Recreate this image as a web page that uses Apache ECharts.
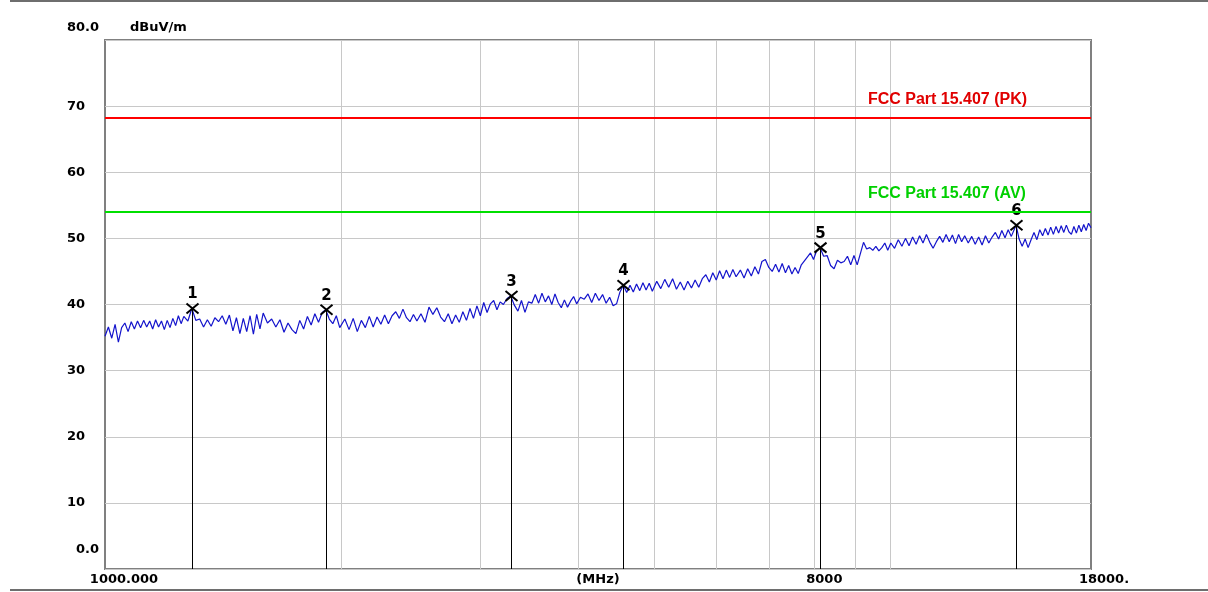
<!DOCTYPE html>
<html><head><meta charset="utf-8">
<script src="https://cdn.jsdelivr.net/npm/echarts@6/dist/echarts.min.js"></script>
<style>html,body{margin:0;padding:0;background:#fff;}#c{width:1208px;height:592px;}</style>
</head><body><div id="c"></div>
<script>
// Measured trace: [frequency MHz, level dBuV/m]
const trace = [
[1000,35.2],[1010,36.6],[1020,34.9],[1030,37.0],[1040,34.3],[1050,36.5],[1060,37.2],[1070,35.9],[1080,37.4],[1090,36.3],[1100,37.5],[1110,36.5],[1120,37.6],[1130,36.6],[1140,37.5],[1150,36.3],[1160,37.7],[1170,36.6],[1180,37.5],[1190,36.2],[1200,37.6],[1210,36.5],[1220,37.9],[1230,36.8],[1240,38.3],[1250,37.1],
[1260,38.2],[1275,37.5],[1290,39.4],[1305,37.6],[1320,37.8],[1335,36.6],[1350,37.7],[1365,36.7],[1380,38.0],[1395,37.4],[1410,38.3],[1425,37.0],[1440,38.4],[1455,36.0],[1470,38.0],[1485,35.6],[1500,37.9],[1515,35.9],[1530,38.3],[1545,35.5],[1560,38.5],[1575,36.3],[1590,38.7],
[1610,37.2],[1630,37.8],[1650,36.6],[1670,37.7],[1690,35.8],[1710,37.2],[1730,36.2],[1750,35.6],[1770,37.6],[1790,36.3],[1810,38.2],[1830,36.9],[1850,38.6],[1870,37.3],[1890,38.8],[1910,39.2],[1930,37.8],[1950,37.1],[1970,38.3],[1990,36.5],
[2020,37.8],[2045,36.2],[2070,37.9],[2095,35.9],[2120,37.6],[2145,36.5],[2170,38.2],[2195,36.6],[2220,38.1],[2245,37.0],[2270,38.4],[2295,37.1],[2320,38.3],[2345,38.9],[2370,37.9],[2395,39.3],[2420,38.0],[2445,37.4],[2470,38.5],[2495,37.5],
[2525,38.6],[2555,37.3],[2585,39.6],[2615,38.5],[2645,39.5],[2675,38.1],[2705,37.4],[2735,38.6],[2765,37.1],[2795,38.4],[2825,37.3],[2855,38.9],[2885,37.6],[2915,39.4],[2945,37.9],[2975,39.8],[3005,38.3],[3035,40.3],[3065,38.8],[3095,40.1],[3125,40.6],[3155,39.2],[3185,40.4],
[3215,40.0],[3250,40.9],[3285,41.3],[3320,39.9],[3355,39.0],[3390,40.6],[3425,38.8],[3460,40.4],[3495,40.2],[3530,41.5],[3565,40.2],[3600,41.7],[3635,40.4],[3670,41.3],[3705,40.0],[3740,41.6],[3775,40.3],[3810,39.5],[3845,40.7],[3880,39.6],[3915,40.5],[3950,41.2],[3985,40.1],
[4030,41.1],[4075,40.8],[4120,41.6],[4165,40.3],[4210,41.7],[4255,40.6],[4300,41.5],[4345,40.2],[4390,41.1],[4435,39.8],[4480,40.1],[4525,41.9],[4570,42.9],[4615,41.8],[4660,42.9],[4705,41.9],[4750,43.1],[4795,42.1],[4840,43.3],[4885,42.2],[4930,43.2],[4975,42.0],
[5040,43.5],[5100,42.4],[5160,43.8],[5220,42.6],[5280,43.9],[5340,42.3],[5400,43.4],[5460,42.2],[5520,43.5],[5580,42.5],[5640,43.7],[5700,42.6],[5760,43.9],[5820,44.5],[5880,43.4],[5940,44.8],[6000,43.7],[6060,45.1],[6120,43.9],[6180,45.2],[6240,44.1],[6300,45.3],[6360,44.2],
[6440,45.2],[6510,44.0],[6580,45.4],[6650,44.3],[6720,45.7],[6790,44.6],[6860,46.5],[6930,46.8],[7000,45.6],[7070,45.0],[7140,46.1],[7210,44.9],[7280,46.2],[7350,44.8],[7420,45.9],[7490,44.6],[7560,45.6],[7630,44.7],[7700,46.0],[7770,46.6],[7840,47.2],[7910,47.8],[7980,46.8],
[8050,48.1],[8135,48.6],[8220,47.3],[8305,47.4],[8390,45.9],[8475,45.4],[8560,46.7],[8645,46.3],[8730,46.5],[8815,47.3],[8900,46.0],[8985,47.4],[9070,46.0],[9155,47.7],[9240,49.4],[9325,48.4],[9410,48.6],[9495,48.2],[9580,48.8],[9665,48.1],[9750,48.6],[9835,49.3],[9920,48.2],
[10010,49.3],[10120,48.5],[10230,49.8],[10340,48.8],[10450,50.0],[10560,48.9],[10670,50.2],[10780,49.1],[10890,50.4],[11000,49.3],[11110,50.6],[11220,49.4],[11330,48.5],[11440,49.5],[11550,50.3],[11660,49.4],[11770,50.6],[11880,49.5],[11990,50.5],[12100,49.2],[12210,50.6],[12320,49.5],[12430,50.4],
[12560,49.3],[12690,50.3],[12820,49.1],[12950,50.2],[13080,49.0],[13210,50.4],[13340,49.3],[13470,50.2],[13600,50.9],[13730,49.9],[13860,51.2],[13990,50.1],[14120,51.3],[14250,50.3],[14450,52.0],[14580,49.9],[14710,48.8],[14840,49.9],[14970,48.6],[15100,49.8],[15230,50.9],[15360,49.8],[15490,51.3],
[15620,50.4],[15745,51.5],[15870,50.5],[15995,51.7],[16120,50.6],[16245,51.8],[16370,50.8],[16495,51.9],[16620,50.9],[16745,52.0],[16870,51.0],[16995,50.6],[17120,51.8],[17245,50.8],[17370,52.0],[17495,51.0],[17620,52.1],[17745,51.2],[17870,52.3],[18000,51.6]
];
const markerFreq  = [1290, 1910, 3285, 4570, 8135, 14450];
const markerLevel = [39.4, 39.2, 41.3, 42.9, 48.6, 52.0];
const markerLabel = ['1', '2', '3', '4', '5', '6'];
const limitFreq   = [1000, 18000];
const limitLevel  = [68.2, 54.0];
const limitName   = ['FCC Part 15.407 (PK)', 'FCC Part 15.407 (AV)'];
const limitLabelFreq = 9360;
const gridFreq    = [2000, 3000, 4000, 5000, 6000, 7000, 8000, 9000, 10000];
const xLabelValue = [1000, 8000, 18000];
const xLabelText  = ['1000.000', '8000', '18000.'];
const yLabelText  = {0:'0.0', 10:'10', 20:'20', 30:'30', 40:'40', 50:'50', 60:'60', 70:'70', 80:'80.0'};

const F = 'DejaVu Sans';
const limitColor = ['#ff0000', '#00e000'];
const limitTextColor = ['#e00000', '#00d000'];

const chart = echarts.init(document.getElementById('c'));
const xRich = ['a','b','c'];
const option = {
  animation: false,
  backgroundColor: '#ffffff',
  grid: {left:105, right:117, top:40, bottom:23, show:true, borderColor:'#808080', borderWidth:2, backgroundColor:'transparent', containLabel:false, outerBoundsMode:'none'},
  xAxis: {
    type:'log', logBase:10, min:1000, max:18000,
    name:'(MHz)', nameLocation:'middle', nameGap:4, nameMoveOverlap:false,
    nameTextStyle:{fontFamily:F, fontWeight:'bold', fontSize:13, color:'#000', verticalAlign:'top'},
    axisLine:{show:false}, axisTick:{show:false}, splitLine:{show:false},
    axisLabel:{
      customValues: xLabelValue, margin:4, fontFamily:F, fontWeight:'bold', fontSize:13, color:'#000',
      formatter: function(v){
        let best=0, bd=1e9;
        xLabelValue.forEach((x,i)=>{const d=Math.abs(Math.log(v/x)); if(d<bd){bd=d;best=i;}});
        return '{'+xRich[best]+'|'+xLabelText[best]+'}';
      },
      rich:{
        a:{fontFamily:F, fontWeight:'bold', fontSize:13, color:'#000', padding:[0,0,0,38]},
        b:{fontFamily:F, fontWeight:'bold', fontSize:13, color:'#000', padding:[0,0,0,20]},
        c:{fontFamily:F, fontWeight:'bold', fontSize:13, color:'#000', padding:[0,0,0,26]}
      }
    }
  },
  yAxis: {
    type:'value', min:0, max:80, interval:10,
    name:'dBuV/m', nameLocation:'end', nameGap:12, nameMoveOverlap:false,
    nameTextStyle:{fontFamily:F, fontWeight:'bold', fontSize:13, color:'#000', align:'left', verticalAlign:'middle', padding:[0,0,0,25]},
    axisLine:{show:false}, axisTick:{show:false},
    splitLine:{lineStyle:{color:'#c8c8c8', width:1}},
    axisLabel:{
      margin:6, fontFamily:F, fontWeight:'bold', fontSize:13, color:'#000',
      formatter: function(v){
        const t = yLabelText[Math.round(v)];
        if (Math.round(v)===80) return '{t|'+t+'}';
        if (Math.round(v)===0) return '{b|'+t+'}';
        return '{n|'+t+'}';
      },
      rich:{
        t:{fontFamily:F, fontWeight:'bold', fontSize:13, color:'#000', padding:[0,0,24,0]},
        b:{fontFamily:F, fontWeight:'bold', fontSize:13, color:'#000', padding:[0,0,38,0]},
        n:{fontFamily:F, fontWeight:'bold', fontSize:13, color:'#000', padding:[0,14,0,0]}
      }
    }
  },
  graphic: [
    {type:'line', shape:{x1:10, y1:1, x2:1208, y2:1}, style:{stroke:'#6e6e6e', lineWidth:2}, z:10},
    {type:'line', shape:{x1:10, y1:590, x2:1208, y2:590}, style:{stroke:'#6e6e6e', lineWidth:2}, z:10}
  ],
  series: [
    {
      type:'custom', z:1, silent:true,
      data: gridFreq.map(f=>[f]),
      renderItem: function(params, api){
        const a = api.coord([api.value(0), 0]);
        const b = api.coord([api.value(0), 80]);
        return {type:'line', shape:{x1:Math.round(a[0])+0.5, y1:a[1], x2:Math.round(a[0])+0.5, y2:b[1]}, style:{stroke:'#c8c8c8', lineWidth:1}};
      }
    },
    {
      type:'line', z:2, silent:true, symbol:'none',
      data: trace,
      lineStyle:{color:'#1414cc', width:1.2}
    },
    {
      type:'custom', z:3, silent:true,
      data: markerFreq.map((f,i)=>[f, markerLevel[i]]),
      renderItem: function(params, api){
        const p = api.coord([api.value(0), api.value(1)]);
        const b = api.coord([api.value(0), 0]);
        const x = Math.round(p[0])+0.5;
        return {type:'group', children:[
          {type:'line', shape:{x1:x, y1:p[1], x2:x, y2:b[1]}, style:{stroke:'#000', lineWidth:1}},
          {type:'line', shape:{x1:x-6, y1:p[1]-5, x2:x+6, y2:p[1]+5}, style:{stroke:'#000', lineWidth:2}},
          {type:'line', shape:{x1:x-6, y1:p[1]+5, x2:x+6, y2:p[1]-5}, style:{stroke:'#000', lineWidth:2}},
          {type:'text', x:x, y:p[1]-14, style:{text:markerLabel[params.dataIndex], textAlign:'center', textVerticalAlign:'middle', font:'bold 15px "DejaVu Sans"', fill:'#000'}}
        ]};
      }
    },
    {
      type:'line', z:4, silent:true, symbol:'none',
      data: limitFreq.map(f=>[f, limitLevel[0]]),
      lineStyle:{color:limitColor[0], width:2}
    },
    {
      type:'line', z:4, silent:true, symbol:'none',
      data: limitFreq.map(f=>[f, limitLevel[1]]),
      lineStyle:{color:limitColor[1], width:2}
    },
    {
      type:'custom', z:5, silent:true,
      data: limitLevel.map(v=>[limitLabelFreq, v]),
      renderItem: function(params, api){
        const p = api.coord([api.value(0), api.value(1)]);
        return {type:'text', x:p[0], y:p[1]-18, style:{text:limitName[params.dataIndex], textAlign:'left', textVerticalAlign:'middle', font:'bold 16px "Liberation Sans"', fill:limitTextColor[params.dataIndex]}};
      }
    }
  ]
};
chart.setOption(option);
</script></body></html>
